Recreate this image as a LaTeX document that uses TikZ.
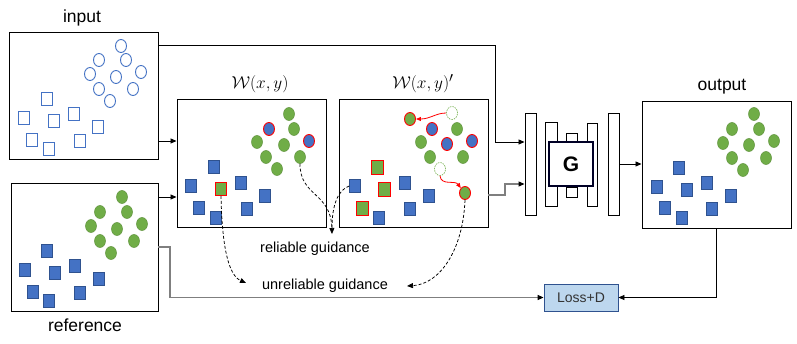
\documentclass[tikz,border=0pt]{standalone}
\usepackage{fontspec}
\setmainfont{Liberation Sans}
\usetikzlibrary{arrows.meta,shapes.geometric}
\definecolor{myblue}{HTML}{4472C4}
\definecolor{bluedark}{HTML}{2F528F}
\definecolor{mygreen}{HTML}{70AD47}
\definecolor{lossfill}{HTML}{BDD7EE}
\definecolor{gline}{HTML}{7F7F7F}
\begin{document}
\begin{tikzpicture}[x=1pt,y=-1pt,
  panel/.style={draw=black,line width=0.95pt,fill=white,inner sep=0pt},
  osq/.style={rectangle,draw=myblue,line width=0.9pt,minimum width=11pt,minimum height=13pt,inner sep=0pt},
  ocirc/.style={ellipse,draw=myblue,line width=0.9pt,minimum width=11pt,minimum height=13pt,inner sep=0pt},
  bsq/.style={rectangle,fill=myblue,draw=bluedark,line width=0.7pt,minimum width=11pt,minimum height=13pt,inner sep=0pt},
  gc/.style={ellipse,fill=mygreen,draw=mygreen!85!black,line width=0.5pt,minimum width=11pt,minimum height=13pt,inner sep=0pt},
  gsqr/.style={rectangle,fill=mygreen,draw=red,line width=0.9pt,minimum width=11pt,minimum height=13pt,inner sep=0pt},
  bcr/.style={ellipse,fill=myblue,draw=red,line width=0.9pt,minimum width=11pt,minimum height=13pt,inner sep=0pt},
  gcr/.style={ellipse,fill=mygreen,draw=red,line width=0.9pt,minimum width=11pt,minimum height=13pt,inner sep=0pt},
  ghost/.style={ellipse,draw=mygreen,dashed,dash pattern=on 1.5pt off 1pt,line width=0.6pt,minimum width=11pt,minimum height=13pt,inner sep=0pt},
  bar/.style={draw=black,line width=0.95pt,fill=white,inner sep=0pt},
  lbl/.style={font=\fontsize{17.5}{20}\selectfont,inner sep=0pt},
  glbl/.style={font=\fontsize{14.5}{17}\selectfont,inner sep=0pt},
  wlbl/.style={font=\fontsize{19}{22}\selectfont,inner sep=0pt},
  conn/.style={line width=0.8pt,-{Triangle[length=6pt,width=5pt]}},
  gconn/.style={draw=gline,line width=1.2pt,-{Triangle[length=6pt,width=5pt,fill=black,color=black]}},
  dconn/.style={dashed,dash pattern=on 3pt off 2pt,line width=0.75pt,-{Triangle[length=6pt,width=5pt]}},
  rconn/.style={draw=red,line width=0.8pt,-{Triangle[length=5pt,width=4pt]}}
]
\useasboundingbox (0,0) rectangle (797,344);

% panels
\node[panel,minimum width=149pt,minimum height=127pt] (input) at (83.5,95.5) {};
\node[panel,minimum width=147pt,minimum height=128pt] (ref) at (84.5,247) {};
\node[panel,minimum width=149pt,minimum height=128pt] (W) at (251.5,163) {};
\node[panel,minimum width=149pt,minimum height=128pt] (Wp) at (413.5,163) {};
\node[panel,minimum width=149pt,minimum height=127pt] (out) at (716.5,164.5) {};

% labels
\node[lbl] (linput) at (82,18) {input};
\node[lbl] (lref) at (85,325) {reference};
\node[lbl] (lout) at (722,87) {output};
\node[wlbl] (lW) at (260,84) {$\mathcal{W}(x,y)$};
\node[wlbl] (lWp) at (423,84) {$\mathcal{W}(x,y)^{\prime}$};
\node[glbl] (rel) at (315,249) {reliable guidance};
\node[glbl] (unrel) at (325,286) {unreliable guidance};

% input shapes
\foreach \x/\y [count=\i] in {121/46,99/60,126/60,90/74,116/77,141/72,99/89,133/89,110/101}
  \node[ocirc] (ic\i) at (\x,\y) {};
\foreach \x/\y [count=\i] in {47/99,24/118,54/121,74/114,98/127,32/140,49/149,80/141}
  \node[osq] (is\i) at (\x,\y) {};

% reference shapes
\foreach \x/\y [count=\i] in {122/197,100/212,127/212,91/226,117/229,142/224,100/241,134/241,111/253}
  \node[gc] (rc\i) at (\x,\y) {};
\foreach \x/\y [count=\i] in {47/251,25/270,55/273,75/266,99/279,33/292,49/301,80/293}
  \node[bsq] (rs\i) at (\x,\y) {};

% W shapes
\foreach \x/\y [count=\i] in {289/114,294/129,257/142,284/145,266/157,300/157,277/169}
  \node[gc] (wc\i) at (\x,\y) {};
\node[bcr] (wb1) at (269,129) {};
\node[bcr] (wb2) at (309,141) {};
\foreach \x/\y [count=\i] in {214/167,191/186,241/183,265/196,199/208,216/218,247/209}
  \node[bsq] (ws\i) at (\x,\y) {};
\node[gsqr] (wg1) at (221,189) {};

% W' shapes
\foreach \x/\y [count=\i] in {457/129,421/142,430/157,463/157}
  \node[gc] (pc\i) at (\x,\y) {};
\foreach \x/\y [count=\i] in {432/129,447/144,472/141}
  \node[bcr] (pb\i) at (\x,\y) {};
\node[gcr] (pr1) at (410,119) {};
\node[gcr] (pr2) at (465,193) {};
\node[ghost] (ph1) at (452,113) {};
\node[ghost] (ph2) at (440,169) {};
\foreach \x/\y [count=\i] in {355/186,405/183,429/196,379/218,410/209}
  \node[bsq] (ps\i) at (\x,\y) {};
\foreach \x/\y [count=\i] in {377/167,384/189,362/208}
  \node[gsqr,minimum width=12pt,minimum height=14pt] (pg\i) at (\x,\y) {};

% output shapes
\foreach \x/\y [count=\i] in {754/114,732/129,759/129,723/143,749/145,774/141,732/158,766/158,743/170}
  \node[gc] (oc\i) at (\x,\y) {};
\foreach \x/\y [count=\i] in {679/168,657/187,687/190,707/183,731/196,665/208,682/218,712/209}
  \node[bsq] (os\i) at (\x,\y) {};

% generator
\node[bar,minimum width=11pt,minimum height=102pt] (bar1) at (530.5,164) {};
\node[bar,minimum width=12pt,minimum height=84pt] (bar2) at (551,164) {};
\node[bar,minimum width=11pt,minimum height=10pt] (smt) at (571.5,138) {};
\node[bar,minimum width=11pt,minimum height=10pt] (smb) at (571.5,192) {};
\node[bar,minimum width=10pt,minimum height=83pt] (bar4) at (592,164.5) {};
\node[bar,minimum width=11pt,minimum height=102pt] (bar5) at (613.5,164) {};
\node[draw=black!85!blue,line width=1.6pt,fill=white,minimum width=44pt,minimum height=44pt,inner sep=0pt,font=\fontsize{21}{24}\selectfont\bfseries] (G) at (571,164) {G};

% loss
\node[draw=bluedark,line width=0.8pt,fill=lossfill,minimum width=74pt,minimum height=27pt,inner sep=0pt,text=black!80,font=\fontsize{14}{16}\selectfont] (loss) at (581,297.5) {Loss+D};

% connectors
\draw[conn] (input.east |- 0,45) -- (495,45) -- (495,142) -- (bar1.west |- 0,142);
\draw[conn] (input.east |- 0,141) -- (W.west |- 0,141);
\draw[conn] (ref.east |- 0,197) -- (W.west |- 0,197);
\draw[gconn] (ref.east |- 0,247) -- (170,247) -- (170,297.5) -- (loss.west);
\draw[gconn] (Wp.east |- 0,195) -- (505,195) -- (505,184) -- (bar1.west |- 0,184);
\draw[conn] (bar5.east) -- (out.west |- bar5.east);
\draw[conn] (out.south) |- (loss.east);

% dashed guidance
\coordinate (reltip) at (332,234);
\coordinate (unreltipL) at (246,283);
\coordinate (unreltipR) at (407,286);
\draw[dconn] (wc6.south) .. controls (300,197) and (331,192) .. (reltip);
\draw[dashed,dash pattern=on 3pt off 2pt,line width=0.75pt] (ps1.west) .. controls (338,190) and (332,205) .. (332,228);
\draw[dconn] (wg1.south) .. controls (222,245) and (228,275) .. (unreltipL);
\draw[dconn] (pr2.south) .. controls (463,250) and (440,284) .. (unreltipR);

% red moves
\draw[rconn] (ph1.west) .. controls (436,113) and (430,119) .. (pr1.east);
\draw[rconn] (ph2.south) .. controls (441,186) and (455,180) .. (pr2.north west);
\end{tikzpicture}
\end{document}
